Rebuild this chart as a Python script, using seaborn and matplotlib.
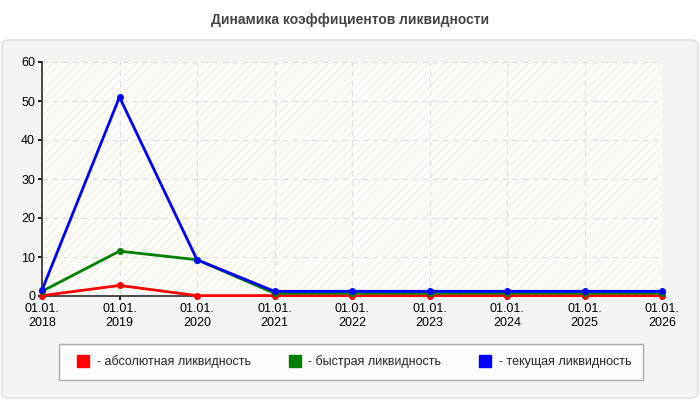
import matplotlib
matplotlib.use("Agg")
import matplotlib.pyplot as plt
import seaborn as sns
import pandas as pd
from matplotlib.patches import FancyBboxPatch, Rectangle
from matplotlib.lines import Line2D

sns.set_theme(style="white")
plt.rcParams['font.family'] = ['Liberation Sans', 'DejaVu Sans']

years = ["01.01.\n2018", "01.01.\n2019", "01.01.\n2020", "01.01.\n2021", "01.01.\n2022",
         "01.01.\n2023", "01.01.\n2024", "01.01.\n2025", "01.01.\n2026"]
absolute = [0.1, 2.7, 0.1, 0.1, 0.1, 0.1, 0.1, 0.1, 0.1]
quick = [1.2, 11.5, 9.3, 0.7, 0.7, 0.7, 0.7, 0.7, 0.7]
current = [1.5, 51.0, 9.3, 1.2, 1.2, 1.2, 1.2, 1.2, 1.2]
names = ["- абсолютная ликвидность", "- быстрая ликвидность", "- текущая ликвидность"]
colors = ["#ff0000", "#008000", "#0000ff"]

W, H = 700, 400
fig = plt.figure(figsize=(7, 4), dpi=100)
fig.patch.set_facecolor("white")
bg = FancyBboxPatch((2/W, 2/H), 696/W, 358/H, boxstyle="round,pad=0,rounding_size=0.012",
                    transform=fig.transFigure, facecolor="#f4f4f4", edgecolor="#dddddd", lw=1, zorder=-10)
fig.patches.append(bg)
fig.text(0.5, 1 - 20/H, "Динамика коэффициентов ликвидности", ha="center", va="center",
         fontsize=10, fontweight="bold", color="#444444")

ax = fig.add_axes([42/W, 1 - 296/H, 620/W, 234/H])
ax.set_facecolor("#fffff8")
ax.add_patch(Rectangle((0, 0), 1, 1, transform=ax.transAxes, facecolor="none",
                       hatch="////", edgecolor="#f0f0f0", lw=0, zorder=0))
df = pd.DataFrame({"x": list(range(len(years))) * 3,
                   "v": absolute + quick + current,
                   "s": [names[0]] * 9 + [names[1]] * 9 + [names[2]] * 9})
for i, n in enumerate(names):
    sns.lineplot(data=df[df.s == n], x="x", y="v", color=colors[i], marker="o", markersize=5,
                 markeredgewidth=0, lw=2, ax=ax, zorder=3 + i, legend=False, clip_on=False)
ax.set_xlim(0, 8)
ax.set_ylim(0, 60)
ax.set_yticks(range(0, 61, 10))
ax.set_xticks(range(9))
ax.set_xticklabels(years)
ax.set_xlabel(""); ax.set_ylabel("")
ax.tick_params(labelsize=9, colors="black", length=3, pad=2)
ax.grid(True, ls=(0, (5, 4)), color="#dddddd", lw=0.8)
for s in ["top", "right"]:
    ax.spines[s].set_visible(False)
for s in ["left", "bottom"]:
    ax.spines[s].set_color("#333333")
ax.tick_params(axis="both", which="both", bottom=True, left=True)

handles = [Line2D([], [], color=c, lw=0, marker="s", markersize=9) for c in colors]
leg = fig.legend(handles, names, loc="center", bbox_to_anchor=(351/W, 1 - 362/H), ncol=3,
                 fontsize=9, frameon=True, fancybox=False, edgecolor="#999999",
                 handletextpad=0.1, columnspacing=2.5, borderpad=0.9)
leg.get_frame().set_facecolor("white")
fig.savefig("out.png", dpi=100)
